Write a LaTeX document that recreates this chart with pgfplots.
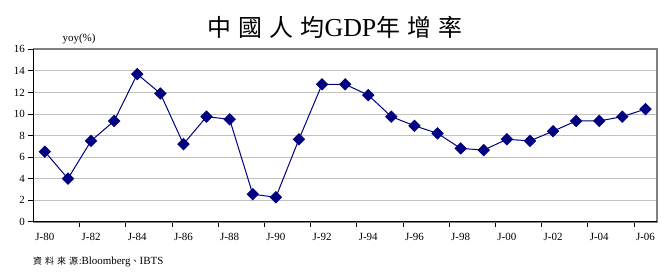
\documentclass[border=0pt]{standalone}
\usepackage{pgfplots}
\pgfplotsset{compat=1.18}
\usepackage{fontspec}
\setmainfont{Liberation Serif}
\newfontfamily\cjk{Noto Sans CJK TC}
\definecolor{navyc}{HTML}{000080}
\definecolor{gridc}{HTML}{C0C0C0}
\definecolor{framec}{HTML}{808080}
\begin{document}
\begin{tikzpicture}[x=1bp,y=1bp]
\useasboundingbox (0,0) rectangle (667,279);
\begin{axis}[
  at={(33.3bp,57.3bp)}, anchor=south west,
  scale only axis, width=623.7bp, height=172.4bp,
  xmin=-0.5, xmax=26.5, ymin=0, ymax=16,
  clip=false,
  ytick={0,2,...,16},
  xtick={1.5,3.5,...,25.5},
  xticklabels={},
  extra x ticks={0,2,...,26},
  extra x tick labels={J-80,J-82,J-84,J-86,J-88,J-90,J-92,J-94,J-96,J-98,J-00,J-02,J-04,J-06},
  extra x tick style={major tick length=0pt},
  tick align=outside,
  major tick length=5bp,
  xtick pos=bottom, ytick pos=left,
  tick style={black, line width=0.8bp},
  ymajorgrids,
  grid style={gridc, line width=0.9bp},
  axis line style={framec, line width=1.6bp},
  tick label style={font=\fontsize{11}{13}\selectfont},
  xticklabel style={yshift=-8bp},
  /pgf/number format/assume math mode=true,
]
\addplot[navyc, line width=1bp, mark=square*, mark size=3.9bp,
  mark options={fill=navyc, rotate=45, solid}] coordinates {
 (0,6.5) (1,4.0) (2,7.5) (3,9.35) (4,13.7) (5,11.9) (6,7.2) (7,9.75)
 (8,9.5) (9,2.55) (10,2.27) (11,7.65) (12,12.75) (13,12.75) (14,11.75)
 (15,9.75) (16,8.9) (17,8.2) (18,6.8) (19,6.65) (20,7.65) (21,7.5)
 (22,8.4) (23,9.35) (24,9.35) (25,9.75) (26,10.45)
};
\draw[black, line width=1bp] (rel axis cs:0,1) -- (rel axis cs:0,0) -- (rel axis cs:1,0);
\end{axis}
\node at (335,251.5) {{\cjk\fontsize{24}{28}\selectfont 中\hspace{7bp}國\hspace{7bp}人\hspace{7bp}均}{\fontsize{26}{30}\selectfont GDP}{\cjk\fontsize{24}{28}\selectfont 年\hspace{7bp}增\hspace{7bp}率}};
\node at (79,240) {\fontsize{11}{13}\selectfont yoy(\%)};
\node[anchor=west, inner sep=0pt] at (33,17) {{\cjk\fontsize{9}{11}\selectfont 資\hspace{3bp}料\hspace{3bp}來\hspace{3bp}源\hspace{1bp}:}{\fontsize{11}{13}\selectfont Bloomberg}{\cjk\fontsize{9}{11}\selectfont 、}{\fontsize{11}{13}\selectfont IBTS}};
\end{tikzpicture}
\end{document}
